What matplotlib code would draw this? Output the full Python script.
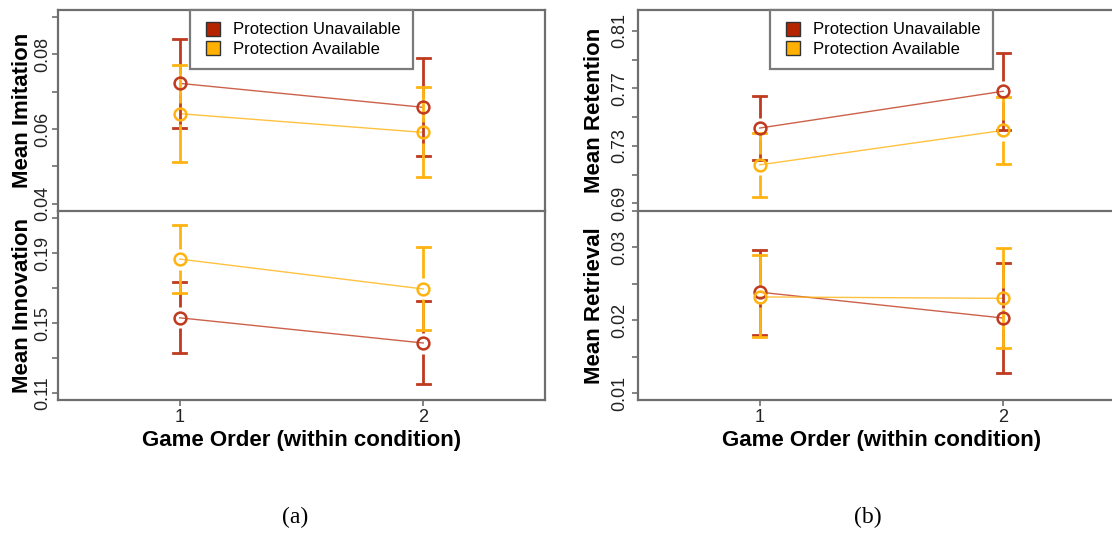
import matplotlib
matplotlib.use("Agg")
import matplotlib.pyplot as plt
from matplotlib.lines import Line2D
import numpy as np

plt.rcParams['font.family'] = ['Liberation Sans', 'DejaVu Sans']

game_order = [1, 2]
series_names = ["Protection Unavailable", "Protection Available"]

# mean, upper and lower CI per game order
imit_unavail = [0.0722, 0.0658]
imit_unavail_hi = [0.0840, 0.0789]
imit_unavail_lo = [0.0604, 0.0528]
imit_avail = [0.0641, 0.0591]
imit_avail_hi = [0.0771, 0.0712]
imit_avail_lo = [0.0511, 0.0472]

innov_unavail = [0.1530, 0.1386]
innov_unavail_hi = [0.1737, 0.1625]
innov_unavail_lo = [0.1327, 0.1151]
innov_avail = [0.1866, 0.1695]
innov_avail_hi = [0.2061, 0.1934]
innov_avail_lo = [0.1674, 0.1458]

reten_unavail = [0.7424, 0.7680]
reten_unavail_hi = [0.7645, 0.7943]
reten_unavail_lo = [0.7205, 0.7412]
reten_avail = [0.7168, 0.7408]
reten_avail_hi = [0.7389, 0.7638]
reten_avail_lo = [0.6944, 0.7177]

retr_unavail = [0.02385, 0.0203]
retr_unavail_hi = [0.0296, 0.0278]
retr_unavail_lo = [0.0179, 0.0127]
retr_avail = [0.0232, 0.0230]
retr_avail_hi = [0.0290, 0.0299]
retr_avail_lo = [0.0177, 0.0162]

RED = '#BF3A1E'
ORANGE = '#FFB310'
RED_LEG = '#B52400'
ORANGE_LEG = '#FFB000'
FRAME = '#6E6E6E'

W, H = 1112, 535
fig = plt.figure(figsize=(W / 100, H / 100), dpi=100)


def px_axes(left, top, right, bottom):
    return fig.add_axes([left / W, (H - bottom) / H, (right - left) / W, (bottom - top) / H])


def plot_ci(ax, x, y, hi, lo, color, ax_h_px, gap_px=10.5):
	ylo, yhi = ax.get_ylim()
	gap = gap_px * (yhi - ylo) / ax_h_px
	ax.plot(x, y, color=color, lw=1.0, alpha=0.8, zorder=2)
	for xi, yi, h, l in zip(x, y, hi, lo):
		if h - yi > gap:
			ax.plot([xi, xi], [yi + gap, h], color=color, lw=2.0, solid_capstyle='butt', zorder=3)
		if yi - l > gap:
			ax.plot([xi, xi], [l, yi - gap], color=color, lw=2.0, solid_capstyle='butt', zorder=3)
		ax.plot([xi - 0.027, xi + 0.027], [h, h], color=color, lw=2.0, zorder=3)
		ax.plot([xi - 0.027, xi + 0.027], [l, l], color=color, lw=2.0, zorder=3)
	ax.plot(x, y, 'o', ms=8.5, mfc='none', mec=color, mew=1.8, zorder=4)


def style_axes(ax, ylim, major, minor, ylabel, bottom_axis, tick_pad):
	ax.set_xlim(0.5, 2.5)
	ax.set_ylim(*ylim)
	ax.set_yticks(major)
	ax.set_yticks(minor, minor=True)
	ax.set_yticklabels([('%g' % v) for v in major], fontsize=13)
	# tick length/pad are in points: 4.3pt ~ 6px
	ax.tick_params(axis='y', which='both', direction='out', length=4.3, width=1.2,
				   color=FRAME, pad=tick_pad, labelcolor='#222222', labelrotation=90)
	plt.setp(ax.get_yticklabels(), va='center', ha='right')
	for s in ax.spines.values():
		s.set_color(FRAME)
		s.set_linewidth(1.6)
	if bottom_axis:
		ax.set_xticks(game_order)
		ax.set_xticklabels([str(g) for g in game_order], fontsize=13)
		ax.tick_params(axis='x', direction='out', length=4.3, width=1.2, color=FRAME,
					   pad=2, labelcolor='#222222')
		ax.set_xlabel("Game Order (within condition)", fontsize=16, fontweight='bold')
		ax.xaxis.set_label_coords(0.5, -0.215)
		ax.xaxis.label.set_va('center')
	else:
		ax.set_xticks([])
	ax.set_ylabel(ylabel, fontsize=16, fontweight='bold')
	ax.yaxis.label.set_va('center')


def add_legend(ax):
	handles = [Line2D([], [], ls='none', marker='s', ms=10, mfc=RED_LEG, mec='#333333', mew=1.0),
			   Line2D([], [], ls='none', marker='s', ms=10, mfc=ORANGE_LEG, mec='#333333', mew=1.0)]
	leg = ax.legend(handles, series_names, loc='upper center', bbox_to_anchor=(0.5, 1.0),
					borderaxespad=0, fancybox=False, framealpha=1, fontsize=12,
					handletextpad=0.6, borderpad=0.75, labelspacing=0.25, handlelength=1.2)
	leg.get_frame().set_edgecolor('#7A7A7A')
	leg.get_frame().set_linewidth(1.6)
	leg.set_zorder(10)


panels = [
	dict(left=58, right=545, label_off=35, tick_pad=0.2, tag_x=295,
		 top=dict(ylim=(0.0381, 0.0918), major=[0.04, 0.06, 0.08], minor=[0.05, 0.07, 0.09],
				  label="Mean Imitation",
				  data=(imit_unavail, imit_unavail_hi, imit_unavail_lo,
						imit_avail, imit_avail_hi, imit_avail_lo)),
		 bot=dict(ylim=(0.106, 0.2141), major=[0.11, 0.15, 0.19], minor=[0.13, 0.17, 0.21],
				  label="Mean Innovation",
				  data=(innov_unavail, innov_unavail_hi, innov_unavail_lo,
						innov_avail, innov_avail_hi, innov_avail_lo)),
		 tag="(a)"),
	dict(left=638, right=1125, label_off=44, tick_pad=3, tag_x=868,
		 top=dict(ylim=(0.6847, 0.8245), major=[0.69, 0.73, 0.77, 0.81], minor=[0.71, 0.75, 0.79],
				  label="Mean Retention",
				  data=(reten_unavail, reten_unavail_hi, reten_unavail_lo,
						reten_avail, reten_avail_hi, reten_avail_lo)),
		 bot=dict(ylim=(0.00904, 0.0350), major=[0.01, 0.02, 0.03], minor=[0.015, 0.025, 0.035],
				  label="Mean Retrieval",
				  data=(retr_unavail, retr_unavail_hi, retr_unavail_lo,
						retr_avail, retr_avail_hi, retr_avail_lo)),
		 tag="(b)"),
]

for p in panels:
	ax_top = px_axes(p['left'], 10, p['right'], 211)
	ax_bot = px_axes(p['left'], 211, p['right'], 400)
	for ax, spec, h_px, is_bot in [(ax_top, p['top'], 201, False), (ax_bot, p['bot'], 189, True)]:
		style_axes(ax, spec['ylim'], spec['major'], spec['minor'], spec['label'], is_bot, p['tick_pad'])
		ax.yaxis.set_label_coords(-p['label_off'] / 487, 0.5)
		u, uh, ul, a, ah, al = spec['data']
		plot_ci(ax, game_order, u, uh, ul, RED, h_px)
		plot_ci(ax, game_order, a, ah, al, ORANGE, h_px)
		ax.patch.set_alpha(0)
	ax_bot.spines['top'].set_visible(False)
	add_legend(ax_top)
	fig.text(p['tag_x'] / W, 1 - 517 / H, p['tag'],
			 fontsize=17, family='Liberation Serif', ha='center', va='center')

fig.savefig("out.png", dpi=100)
